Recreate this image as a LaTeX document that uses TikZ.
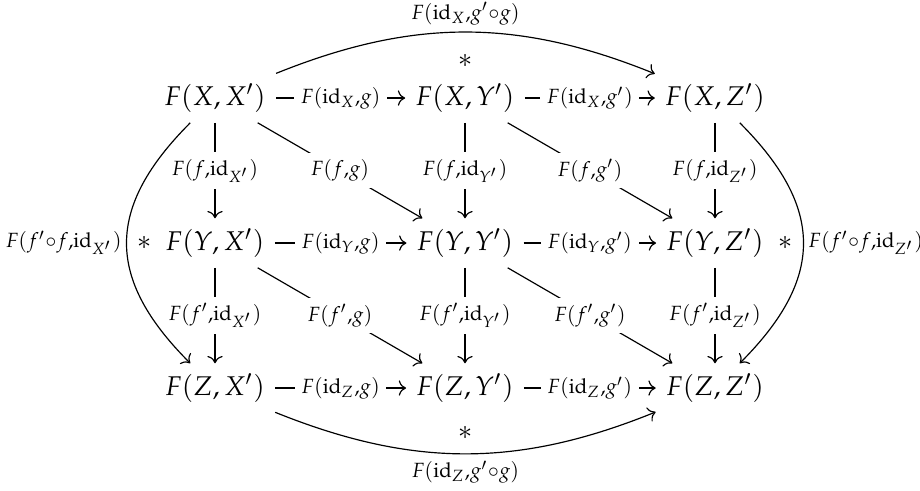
\documentclass[tikz,border=0pt]{standalone}
\usepackage{amsmath,amssymb}
\usepackage{mathpazo}
\usepackage{tikz}
\usetikzlibrary{arrows.meta}

\begin{document}
\begin{tikzpicture}[x=85pt,y=49.3pt,
    font=\fontsize{9.2pt}{11pt}\selectfont,
    obj/.style={inner sep=3.33pt},
    lbl/.style={fill=white,inner sep=2.2pt,
      execute at begin node=$\scriptstyle,execute at end node=$},
    arr/.style={-{Computer Modern Rightarrow}}]
  \useasboundingbox (-0.86,0.676) rectangle (2.82,-2.710);
  % objects
  \node[obj] (XX) at (0,0) {$F(X,X')$};
  \node[obj] (XY) at (1,0) {$F(X,Y')$};
  \node[obj] (XZ) at (2,0) {$F(X,Z')$};
  \node[obj] (YX) at (0,-1) {$F(Y,X')$};
  \node[obj] (YY) at (1,-1) {$F(Y,Y')$};
  \node[obj] (YZ) at (2,-1) {$F(Y,Z')$};
  \node[obj] (ZX) at (0,-2) {$F(Z,X')$};
  \node[obj] (ZY) at (1,-2) {$F(Z,Y')$};
  \node[obj] (ZZ) at (2,-2) {$F(Z,Z')$};
  % rows
  \draw[arr] (XX) -- node[lbl] {F(\mathrm{id}_X,g)} (XY);
  \draw[arr] (XY) -- node[lbl] {F(\mathrm{id}_X,g')} (XZ);
  \draw[arr] (YX) -- node[lbl] {F(\mathrm{id}_Y,g)} (YY);
  \draw[arr] (YY) -- node[lbl] {F(\mathrm{id}_Y,g')} (YZ);
  \draw[arr] (ZX) -- node[lbl] {F(\mathrm{id}_Z,g)} (ZY);
  \draw[arr] (ZY) -- node[lbl] {F(\mathrm{id}_Z,g')} (ZZ);
  % columns
  \draw[arr] (XX) -- node[lbl] {F(f,\mathrm{id}_{X'})} (YX);
  \draw[arr] (XY) -- node[lbl] {F(f,\mathrm{id}_{Y'})} (YY);
  \draw[arr] (XZ) -- node[lbl] {F(f,\mathrm{id}_{Z'})} (YZ);
  \draw[arr] (YX) -- node[lbl] {F(f',\mathrm{id}_{X'})} (ZX);
  \draw[arr] (YY) -- node[lbl] {F(f',\mathrm{id}_{Y'})} (ZY);
  \draw[arr] (YZ) -- node[lbl] {F(f',\mathrm{id}_{Z'})} (ZZ);
  % diagonals
  \draw[arr] (XX) -- node[lbl] {F(f,g)} (YY);
  \draw[arr] (XY) -- node[lbl] {F(f,g')} (YZ);
  \draw[arr] (YX) -- node[lbl] {F(f',g)} (ZY);
  \draw[arr] (YY) -- node[lbl] {F(f',g')} (ZZ);
  % composites
  \draw[arr] (XX) to[bend left=22]
    node[lbl,fill=none,above] {F(\mathrm{id}_X,g'\circ g)}
    node[below=4pt] {$*$} (XZ);
  \draw[arr] (ZX) to[bend right=22]
    node[lbl,fill=none,below] {F(\mathrm{id}_Z,g'\circ g)}
    node[above=1.5pt] {$*$} (ZZ);
  \draw[arr] (XX) to[bend right=45,looseness=1.28]
    node[lbl,fill=none,left,inner sep=1.5pt] {F(f'\circ f,\mathrm{id}_{X'})}
    node[right] {$*$} (ZX);
  \draw[arr] (XZ) to[bend left=45,looseness=1.28]
    node[lbl,fill=none,right,inner sep=1.5pt] {F(f'\circ f,\mathrm{id}_{Z'})}
    node[left] {$*$} (ZZ);
\end{tikzpicture}
\end{document}
